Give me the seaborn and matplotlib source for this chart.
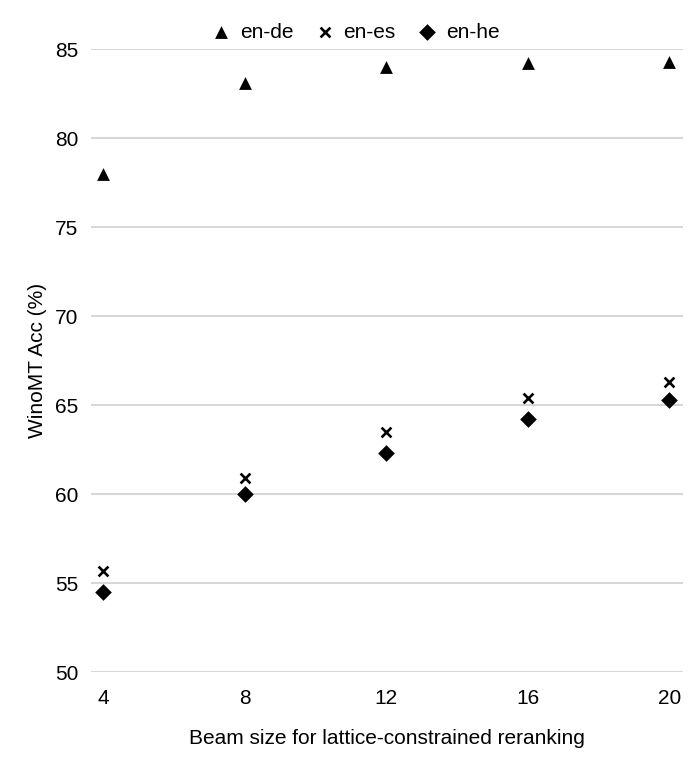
import matplotlib
matplotlib.use("Agg")
import matplotlib.pyplot as plt
import seaborn as sns
import pandas as pd

# valores
beam_sizes = [4, 8, 12, 16, 20]
acc_en_de = [78.0, 83.1, 84.0, 84.2, 84.3]
acc_en_es = [55.7, 60.9, 63.5, 65.4, 66.3]
acc_en_he = [54.5, 60.0, 62.3, 64.2, 65.3]
pares = ["en-de", "en-es", "en-he"]
y_ticks = [50, 55, 60, 65, 70, 75, 80, 85]

df = pd.DataFrame({
    "beam": beam_sizes * 3,
    "acc": acc_en_de + acc_en_es + acc_en_he,
    "par": [p for p in pares for _ in beam_sizes],
})

sns.set_theme(style="white")
plt.rcParams["font.family"] = ["Liberation Sans", "DejaVu Sans"]
plt.rcParams["text.color"] = "black"
plt.rcParams["axes.labelcolor"] = "black"

fig = plt.figure(figsize=(6.98, 7.68), dpi=100)
ax = fig.add_axes([0.130, 0.125, 0.849, 0.811])

markers = {"en-de": "^", "en-es": "x", "en-he": "D"}
sizes = {"en-de": 85, "en-es": 50, "en-he": 72}
for par in pares:
    sub = df[df["par"] == par]
    sns.scatterplot(data=sub, x="beam", y="acc", marker=markers[par],
                    s=sizes[par], color="black", ax=ax, label=par,
                    linewidth=1.9 if par == "en-es" else 0, edgecolor="black")

ax.set_xlim(3.65, 20.4)
ax.set_ylim(50, 85)
ax.set_xticks(beam_sizes)
ax.set_yticks(y_ticks)
ax.grid(axis="y", color="#d0d0d0", linewidth=1.2)
ax.set_axisbelow(True)
for s in ax.spines.values():
    s.set_visible(False)
ax.tick_params(axis="both", labelsize=15, colors="black", length=0)
ax.tick_params(axis="x", pad=12)
ax.tick_params(axis="y", pad=9)
ax.set_xlabel("Beam size for lattice-constrained reranking", fontsize=15, labelpad=15)
ax.set_ylabel("WinoMT Acc (%)", fontsize=15, labelpad=6)

ax.legend(loc="center", bbox_to_anchor=(0.446, 1.027), ncol=3, frameon=False,
          fontsize=15, handlelength=1.0, handletextpad=0.4, columnspacing=1.0,
          borderaxespad=0)

fig.savefig("out.png", dpi=100)
